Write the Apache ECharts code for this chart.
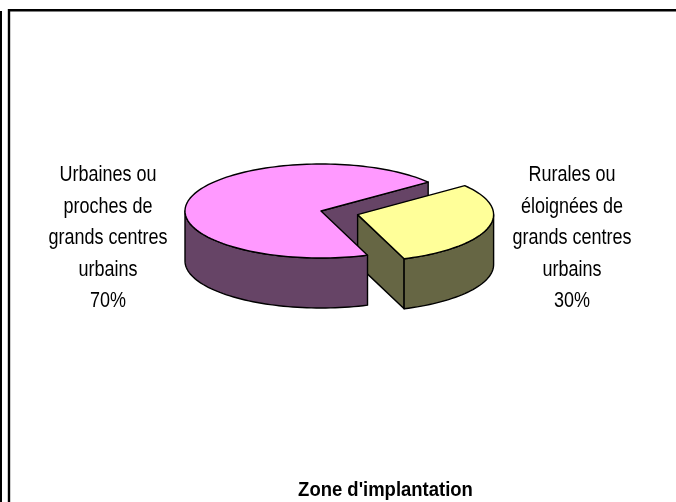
<!DOCTYPE html>
<html lang="fr">
<head>
  <meta charset="UTF-8">
  <title>Zone d'implantation</title>
  <script src="https://cdn.jsdelivr.net/npm/echarts@6/dist/echarts.min.js"></script>
  <style>
    html, body { margin: 0; padding: 0; background: #fff; }
    #main { width: 676px; height: 502px; }
  </style>
</head>
<body>
<div id="main"></div>
<script>
  var categories = ['Urbaines ou\nproches de\ngrands centres\nurbains', 'Rurales ou\néloignées de\ngrands centres\nurbains'];
  var values = [70, 30];
  var topColors = ['#ff99ff', '#ffff99'];
  var sideColors = ['#664466', '#666644'];
  var chartTitle = "Zone d'implantation";

  var cx = 321, cy = 211, rx = 136, ry = 47, depth = 50;
  var explode = [0, 0.28];
  var labelPos = [[108, 238], [572, 238]];
  var startDeg = 70; // clockwise from east, where the first slice begins
  var total = values.reduce(function (a, b) { return a + b; }, 0);
  var fontName = '"Liberation Sans", Arial, sans-serif';

  function pt(ox, oy, deg, dy) {
    var r = deg * Math.PI / 180;
    return [ox + rx * Math.cos(r), oy + ry * Math.sin(r) + (dy || 0)];
  }
  function arc(ox, oy, from, to, dy) {
    var out = [];
    var n = Math.max(2, Math.ceil(Math.abs(to - from) / 2));
    for (var i = 0; i <= n; i++) out.push(pt(ox, oy, from + (to - from) * i / n, dy));
    return out;
  }
  function poly(points, fill, z2) {
    return {
      type: 'polygon', z2: z2,
      shape: { points: points },
      style: { fill: fill, stroke: '#000', lineWidth: 1.4, lineJoin: 'round' }
    };
  }
  function cutFace(ox, oy, deg, fill, z2) {
    var p = pt(ox, oy, deg);
    return poly([[ox, oy], p, [p[0], p[1] + depth], [ox, oy + depth]], fill, z2);
  }

  function renderSlice(params, api) {
    var i = params.dataIndex;
    var before = 0;
    for (var k = 0; k < i; k++) before += values[k];
    var a0 = startDeg + before / total * 360;
    var a1 = a0 + api.value(0) / total * 360;
    var mid = (a0 + a1) / 2 * Math.PI / 180;
    var ox = cx + explode[i] * rx * Math.cos(mid);
    var oy = cy + explode[i] * ry * Math.sin(mid);
    var kids = [];
    var zCut = i === 0 ? 1 : 5;
    var zWall = i === 0 ? 10 : 6;

    // cut faces: only those turned toward the viewer show
    if (Math.cos(a1 * Math.PI / 180) > 0) kids.push(cutFace(ox, oy, a1, sideColors[i], zCut));
    if (Math.cos(a0 * Math.PI / 180) < 0) kids.push(cutFace(ox, oy, a0, sideColors[i], zCut));

    // outer wall, front half of the ellipse (sin > 0)
    for (var t = 0; t <= 1; t++) {
      var from = Math.max(a0, t * 360), to = Math.min(a1, t * 360 + 180);
      if (to > from) {
        kids.push(poly(arc(ox, oy, from, to).concat(arc(ox, oy, to, from, depth)), sideColors[i], zWall));
      }
    }

    // top face
    kids.push(poly([[ox, oy]].concat(arc(ox, oy, a0, a1)), topColors[i], 20));

    kids.push({
      type: 'text', z2: 30,
      x: labelPos[i][0], y: labelPos[i][1], scaleX: 0.8,
      style: {
        text: api.value(1) + '\n' + api.value(0) + '%',
        x: 0, y: 0,
        align: 'center', verticalAlign: 'middle',
        fontFamily: fontName,
        fontSize: 22.5, lineHeight: 31.5, fill: '#000'
      }
    });
    return { type: 'group', children: kids };
  }

  var chart = echarts.init(document.getElementById('main'), null, { renderer: 'canvas' });
  chart.setOption({
    animation: false,
    backgroundColor: '#fff',
    graphic: [
      { type: 'line', shape: { x1: 1, y1: 11, x2: 1, y2: 502 }, style: { stroke: '#000', lineWidth: 2 } },
      { type: 'polyline', shape: { points: [[9, 502], [9, 10.3], [676, 10.3]] }, style: { stroke: '#000', lineWidth: 2.4, fill: null } },
      {
        type: 'text', x: 385.5, y: 490, scaleX: 0.88,
        style: {
          text: chartTitle, x: 0, y: 0, align: 'center', verticalAlign: 'middle',
          fontFamily: fontName, fontSize: 21, fontWeight: 'bold', fill: '#000'
        }
      }
    ],
    series: [{
      type: 'custom',
      coordinateSystem: 'none',
      renderItem: renderSlice,
      data: values.map(function (v, i) { return [v, categories[i]]; })
    }]
  });
</script>
</body>
</html>
